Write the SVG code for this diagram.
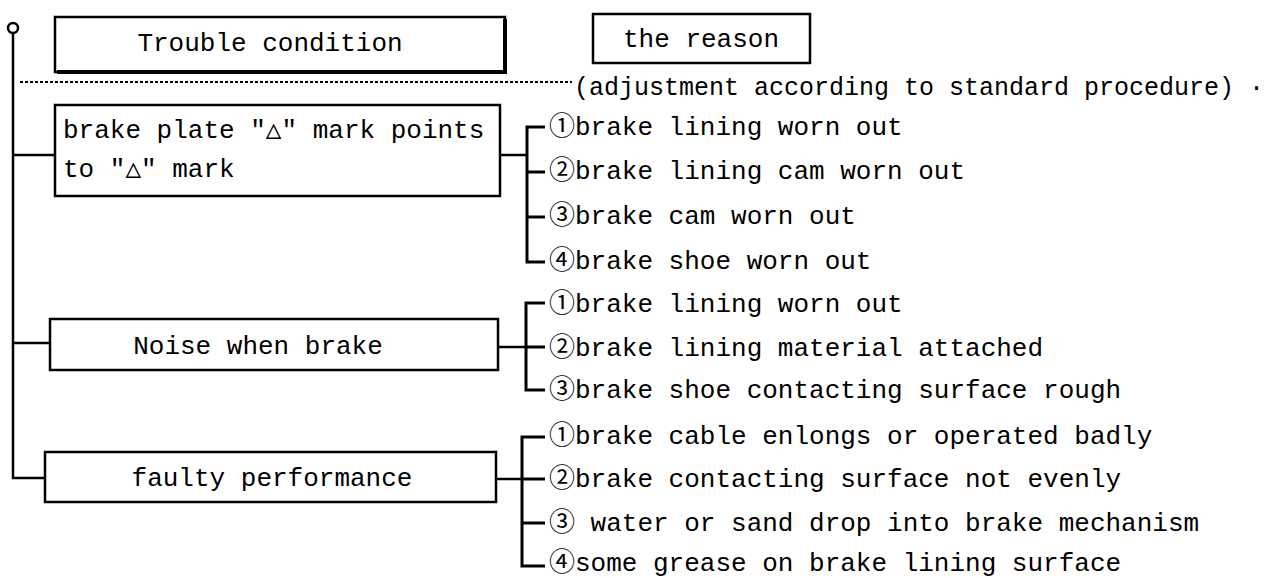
<svg xmlns="http://www.w3.org/2000/svg" width="1284" height="578" viewBox="0 0 1284 578">
<style>
text{font-family:"Liberation Mono","DejaVu Sans Mono","Noto Sans CJK JP",monospace;font-size:26px;fill:#000;dominant-baseline:central}
.c{text-anchor:middle}
.box{fill:#fff;stroke:#000;stroke-width:2.5}
.ln{fill:none;stroke:#000;stroke-width:2.5}
.br{fill:none;stroke:#000;stroke-width:3}
</style>
<rect width="1284" height="578" fill="#fff"/>
<g id="connectors">
<circle cx="13" cy="28" r="5" fill="#fff" stroke="#000" stroke-width="2.5"/>
<path class="ln" d="M13 33 V478 H45"/>
<path class="ln" d="M13 155 H55"/>
<path class="ln" d="M13 343 H50"/>
<path d="M20 82 H572" stroke="#000" stroke-width="2" stroke-dasharray="3 2"/>
<path class="ln" d="M500 155 H527"/>
<path class="br" d="M545 127 H527 V262 H545 M527 172 H545 M527 217 H545"/>
<path class="ln" d="M498 347 H526"/>
<path class="br" d="M545 303 H526 V390 H545 M526 347 H545"/>
<path class="ln" d="M496 479 H522"/>
<path class="br" d="M545 437 H522 V566 H545 M522 479 H545 M522 523 H545"/>
</g>
<g id="trouble">
<rect class="box" x="55" y="17" width="450" height="55"/>
<path d="M57 72 H505 V19" fill="none" stroke="#000" stroke-width="4"/>
<text class="c" x="270" y="44">Trouble condition</text>
</g>
<g id="reason">
<rect class="box" x="593" y="14" width="217" height="49"/>
<text class="c" x="701" y="40">the reason</text>
</g>
<g id="adjust">
<text x="574" y="88" style="font-size:25px">(adjustment according to standard procedure) ·</text>
</g>
<g id="plate">
<rect class="box" x="55" y="105" width="445" height="91"/>
<text x="63" y="131">brake plate "△" mark points</text>
<text x="63" y="170">to "△" mark</text>
</g>
<g id="plate-reasons">
<text x="549" y="128">①brake lining worn out</text>
<text x="549" y="172">②brake lining cam worn out</text>
<text x="549" y="217">③brake cam worn out</text>
<text x="549" y="262">④brake shoe worn out</text>
</g>
<g id="noise">
<rect class="box" x="50" y="319" width="448" height="51"/>
<text class="c" x="258" y="347">Noise when brake</text>
</g>
<g id="noise-reasons">
<text x="549" y="305">①brake lining worn out</text>
<text x="549" y="349">②brake lining material attached</text>
<text x="549" y="391">③brake shoe contacting surface rough</text>
</g>
<g id="faulty">
<rect class="box" x="45" y="452" width="451" height="50"/>
<text class="c" x="272" y="479">faulty performance</text>
</g>
<g id="faulty-reasons">
<text x="549" y="437">①brake cable enlongs or operated badly</text>
<text x="549" y="480">②brake contacting surface not evenly</text>
<text x="549" y="524">③ water or sand drop into brake mechanism</text>
<text x="549" y="564">④some grease on brake lining surface</text>
</g>
</svg>
